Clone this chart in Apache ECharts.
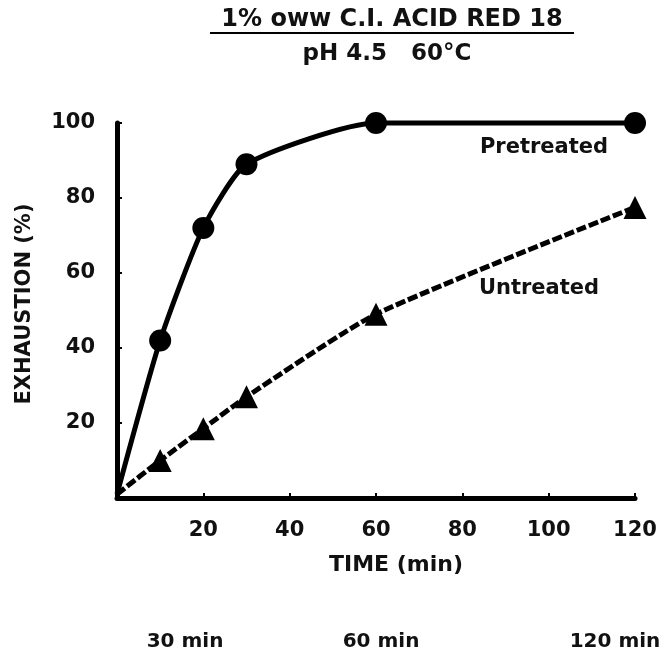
<!DOCTYPE html>
<html>
<head>
<meta charset="utf-8">
<title>Exhaustion</title>
<script src="https://cdn.jsdelivr.net/npm/echarts@6/dist/echarts.min.js"></script>
</head>
<body style="margin:0px;background:#fff;">
<div id="main" style="width:664px;height:659px;"></div>
<script type="text/javascript">
// time in minutes
var times = [0, 10, 20, 30, 60, 120];
var pretreated = [1, 42, 72, 89, 100, 100];
var untreated = [1, 10, 18.5, 27, 49, 77.5];
var xTicks = [20, 40, 60, 80, 100, 120];
var yTicks = [20, 40, 60, 80, 100];
var footLabels = ['30 min', '60 min', '120 min'];

var FONT = 'DejaVu Sans';

function pts(vals) {
    return times.map(function (t, i) {
        if (i === 0) return { value: [t, vals[i]], symbol: 'none' };
        return [t, vals[i]];
    });
}

function txt(s, x, y, size, rot) {
    return {
        type: 'text', x: x, y: y, rotation: rot || 0,
        style: { text: s, font: 'bold ' + size + 'px ' + FONT, fill: '#111', align: 'center', verticalAlign: 'middle' }
    };
}

var myChart = echarts.init(document.getElementById('main'));

var foot = footLabels.map(function (s, i) {
    return txt(s, [185, 381, 615][i], 642, 20);
});

myChart.setOption({
    backgroundColor: '#fff',
    animation: false,
    grid: { left: 117, right: 29, top: 123, bottom: 161, containLabel: false },
    xAxis: {
        type: 'value', min: 0, max: 120, interval: 20,
        axisLine: { lineStyle: { color: '#000', width: 5 } },
        axisTick: { inside: true, length: 5, lineStyle: { color: '#000', width: 2 } },
        axisLabel: {
            showMinLabel: false, margin: 22,
            fontFamily: FONT, fontSize: 21, fontWeight: 'bold', color: '#111',
            formatter: function (v) { return xTicks.indexOf(v) >= 0 ? String(v) : ''; }
        },
        splitLine: { show: false }
    },
    yAxis: {
        type: 'value', min: 0, max: 100, interval: 20,
        axisLine: { lineStyle: { color: '#000', width: 5 } },
        axisTick: { inside: true, length: 5, lineStyle: { color: '#000', width: 2 } },
        axisLabel: {
            showMinLabel: false, margin: 22,
            fontFamily: FONT, fontSize: 21, fontWeight: 'bold', color: '#111',
            formatter: function (v) { return yTicks.indexOf(v) >= 0 ? String(v) : ''; }
        },
        splitLine: { show: false }
    },
    series: [{
        name: 'Pretreated',
        type: 'line',
        data: pts(pretreated),
        smooth: 0.2,
        clip: false,
        symbol: 'circle', symbolSize: 22,
        itemStyle: { color: '#000' },
        lineStyle: { color: '#000', width: 5 }
    }, {
        name: 'Untreated',
        type: 'line',
        data: pts(untreated),
        smooth: 0.2,
        clip: false,
        symbol: 'triangle', symbolSize: 23,
        itemStyle: { color: '#000' },
        lineStyle: { color: '#000', width: 5, type: [10, 3] }
    }],
    graphic: [
        txt('1% oww C.I. ACID RED 18', 392, 20, 24),
        {
            type: 'line',
            shape: { x1: 210, y1: 33, x2: 574, y2: 33 },
            style: { stroke: '#000', lineWidth: 2 }
        },
        txt('pH 4.5   60°C', 387, 54, 23),
        txt('Pretreated', 544, 148, 21),
        txt('Untreated', 539, 289, 21),
        txt('TIME (min)', 396, 565, 22),
        txt('EXHAUSTION (%)', 25, 304, 21, Math.PI / 2)
    ].concat(foot)
});
</script>
</body>
</html>
